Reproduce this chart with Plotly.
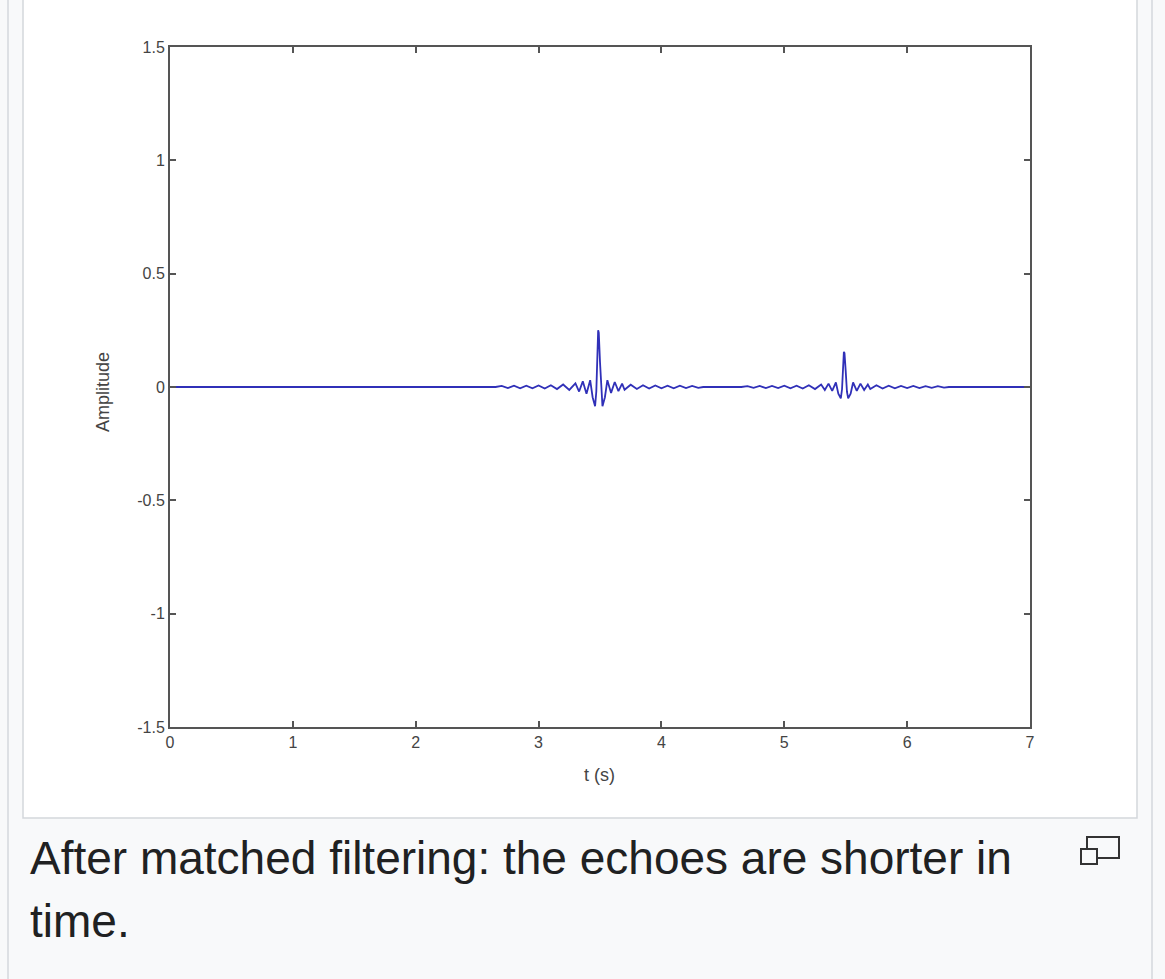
import plotly.graph_objects as go

# ---- data ----
t_flat_start = [0.0, 2.65]
amp_flat_start = [0.0, 0.0]

t_echo1 = [2.70, 2.75, 2.80, 2.85, 2.90, 2.95, 3.00, 3.05, 3.10, 3.15, 3.20, 3.25, 3.30,
           3.33, 3.36, 3.39, 3.42, 3.44, 3.46, 3.47, 3.48, 3.485, 3.49, 3.50, 3.51, 3.52,
           3.54, 3.56, 3.59, 3.62, 3.65, 3.68,
           3.70, 3.75, 3.80, 3.85, 3.90, 3.95, 4.00, 4.05, 4.10, 4.15, 4.20, 4.25, 4.30, 4.34]
amp_echo1 = [0.005, -0.005, 0.006, -0.006, 0.006, -0.006, 0.007, -0.007, 0.008, -0.009, 0.011, -0.013, 0.016,
             -0.020, 0.025, -0.030, 0.030, -0.045, -0.085, -0.020, 0.160, 0.250, 0.240, 0.110, -0.030, -0.085,
             -0.045, 0.030, -0.026, 0.022, -0.018, 0.015,
             -0.012, 0.010, -0.009, 0.008, -0.007, 0.007, -0.006, 0.006, -0.006, 0.006, -0.005, 0.005, -0.004, 0.0]

t_flat_mid = [4.65]
amp_flat_mid = [0.0]

t_echo2 = [4.70, 4.75, 4.80, 4.85, 4.90, 4.95, 5.00, 5.05, 5.10, 5.15, 5.20, 5.25, 5.30,
           5.33, 5.36, 5.39, 5.42, 5.44, 5.46, 5.47, 5.48, 5.485, 5.49, 5.50, 5.51, 5.52,
           5.54, 5.56, 5.59, 5.62, 5.65, 5.68,
           5.70, 5.75, 5.80, 5.85, 5.90, 5.95, 6.00, 6.05, 6.10, 6.15, 6.20, 6.25, 6.30, 6.34]
amp_echo2 = [0.004, -0.004, 0.005, -0.005, 0.005, -0.005, 0.006, -0.006, 0.006, -0.007, 0.008, -0.009, 0.011,
             -0.013, 0.015, -0.017, 0.020, -0.030, -0.050, -0.010, 0.100, 0.155, 0.150, 0.070, -0.020, -0.050,
             -0.030, 0.020, -0.017, 0.015, -0.013, 0.011,
             -0.009, 0.008, -0.007, 0.006, -0.006, 0.005, -0.005, 0.005, -0.005, 0.004, -0.004, 0.004, -0.003, 0.0]

t_flat_end = [7.0]
amp_flat_end = [0.0]

x_tick_vals = [0, 1, 2, 3, 4, 5, 6, 7]
x_tick_text = ["0", "1", "2", "3", "4", "5", "6", "7"]
y_tick_vals = [-1.5, -1, -0.5, 0, 0.5, 1, 1.5]
y_tick_text = ["-1.5", "-1", "-0.5", "0", "0.5", "1", "1.5"]

caption_lines = ["After matched filtering: the echoes are shorter in", "time."]

# ---- figure ----
W, H = 1165, 979
L, R, T, B = 170, 135, 47, 252
PW, PH = W - L - R, H - T - B


def px(x):
    return (x - L) / PW


def py(y):
    return (H - B - y) / PH


t_all = t_flat_start + t_echo1 + t_flat_mid + t_echo2 + t_flat_end
amp_all = amp_flat_start + amp_echo1 + amp_flat_mid + amp_echo2 + amp_flat_end

fig = go.Figure()
fig.add_trace(go.Scatter(x=t_all, y=amp_all, mode="lines",
                         line=dict(color="#3030b8", width=1.8),
                         showlegend=False, hoverinfo="skip"))

font = "Liberation Sans, Arial, Helvetica, sans-serif"
axis_common = dict(showline=True, linecolor="#555555", linewidth=2, mirror="allticks",
                   ticks="inside", ticklen=6, tickwidth=1.5, tickcolor="#555555",
                   showgrid=False, zeroline=False,
                   tickfont=dict(family=font, size=16, color="#444444"))

fig.update_layout(
    width=W, height=H,
    margin=dict(l=L, r=R, t=T, b=B, autoexpand=False),
    paper_bgcolor="#f8f9fa", plot_bgcolor="#ffffff",
    xaxis=dict(range=[0, 7], tickvals=x_tick_vals, ticktext=x_tick_text, **axis_common),
    yaxis=dict(range=[-1.5, 1.5], tickvals=y_tick_vals, ticktext=y_tick_text, **axis_common),
)

shapes = []
# inner image box (white)
shapes.append(dict(type="rect", xref="paper", yref="paper", layer="below",
                   x0=px(23), x1=px(1137), y0=py(818), y1=py(-5),
                   fillcolor="#ffffff", line=dict(color="#d4d7dc", width=1.5)))
# outer thumb borders
for xx in (8, 1152):
    shapes.append(dict(type="line", xref="paper", yref="paper", layer="below",
                       x0=px(xx), x1=px(xx), y0=py(979), y1=py(0),
                       line=dict(color="#d4d7dc", width=1.5)))
# enlarge icon
shapes.append(dict(type="rect", xref="paper", yref="paper", layer="above",
                   x0=px(1087), x1=px(1119), y0=py(858), y1=py(837),
                   fillcolor="rgba(0,0,0,0)", line=dict(color="#333333", width=2)))
shapes.append(dict(type="rect", xref="paper", yref="paper", layer="above",
                   x0=px(1081), x1=px(1097), y0=py(864), y1=py(849),
                   fillcolor="#f8f9fa", line=dict(color="#333333", width=2)))
fig.update_layout(shapes=shapes)

ann = []
ann.append(dict(text="t (s)", xref="paper", yref="paper", x=px(599), y=py(775),
                showarrow=False, font=dict(family=font, size=18, color="#444444"),
                xanchor="center", yanchor="middle"))
ann.append(dict(text="Amplitude", xref="paper", yref="paper", x=px(103), y=py(392),
                showarrow=False, textangle=-90, font=dict(family=font, size=18, color="#444444"),
                xanchor="center", yanchor="middle"))
ann.append(dict(text=caption_lines[0], xref="paper", yref="paper", x=px(28), y=py(858),
                showarrow=False, font=dict(family=font, size=46, color="#202122"),
                xanchor="left", yanchor="middle"))
ann.append(dict(text=caption_lines[1], xref="paper", yref="paper", x=px(28), y=py(921),
                showarrow=False, font=dict(family=font, size=46, color="#202122"),
                xanchor="left", yanchor="middle"))
fig.update_layout(annotations=ann)

fig.write_html("out.html")
